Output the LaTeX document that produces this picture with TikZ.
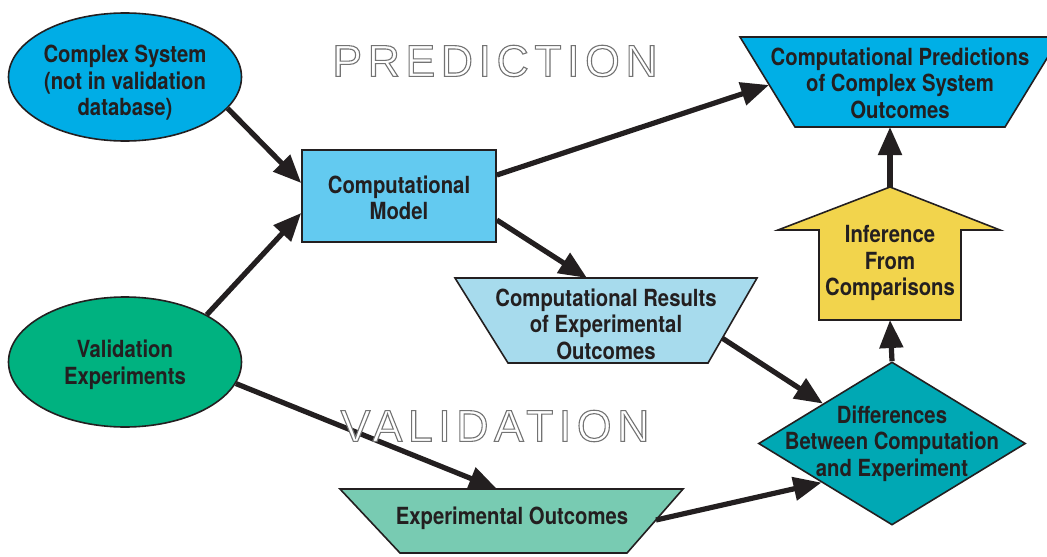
\documentclass[tikz,border=0pt]{standalone}
\usepackage{fontspec}
\setmainfont{TeX Gyre Heros}[FakeStretch=0.86]
\newfontfamily\hollowfont{Liberation Sans}[LetterSpace=12.5]
\usetikzlibrary{shapes.geometric,arrows.meta}

\definecolor{ink}{RGB}{35,31,32}
\definecolor{sysblue}{RGB}{0,173,230}
\definecolor{valgreen}{RGB}{0,178,128}
\definecolor{modelblue}{RGB}{99,202,240}
\definecolor{predblue}{RGB}{0,175,230}
\definecolor{resblue}{RGB}{167,219,237}
\definecolor{expgreen}{RGB}{120,203,178}
\definecolor{diffteal}{RGB}{0,168,180}
\definecolor{infyellow}{RGB}{242,212,76}

% outlined letters: white fill, grey stroke
\newcommand\hollow[1]{\special{pdf:literal direct 2 Tr 0.55 w 0.45 G 1 g}#1\special{pdf:literal direct 0 Tr 0 g 0 G}}

\tikzset{
  txt/.style={text=ink, font=\fontsize{11.8}{13.3}\selectfont\bfseries, align=center, inner sep=0pt},
  box/.style={draw=ink, line width=0.8pt, inner sep=2pt},
  arr/.style={draw=ink, line width=2.6pt, -{Triangle[length=14pt,width=11.5pt]}},
  title/.style={font=\hollowfont\fontsize{22.3}{24}\selectfont, inner sep=0pt}
}

\begin{document}
\begin{tikzpicture}[x=0.5pt,y=-0.5pt]
\useasboundingbox (0,0) rectangle (1047,556);

\node[box, ellipse, fill=sysblue, minimum width=116.5pt, minimum height=64pt] (cs) at (125,77) {};
\node[txt] at ([yshift=-3pt]cs.center) {Complex System\\(not in validation\\database)};
\node[box, ellipse, fill=valgreen, minimum width=116.5pt, minimum height=65pt] (val) at (125,362) {};
\node[txt] at ([yshift=-1.5pt]val.center) {Validation\\Experiments};
\node[box, rectangle, fill=modelblue, minimum width=97pt, minimum height=46pt] (model) at (399,196) {};
\node[txt] at ([yshift=-1pt]model.center) {Computational\\Model};

% trapezoids, wide side up
\draw[box, fill=predblue] (740,37) -- (1060,37) -- (1005,127) -- (795,127) -- cycle;
\node[txt] (pred) at (900,83) {Computational Predictions\\of Complex System\\Outcomes};
\coordinate (predleft) at (769,85);
\coordinate (predbase) at (890,127);
\draw[box, fill=resblue] (455,278) -- (757,278) -- (708,363) -- (508,363) -- cycle;
\node[txt] (res) at (606,324) {Computational Results\\of Experimental\\Outcomes};
\coordinate (restop) at (587,278);
\coordinate (resright) at (722,338);
\draw[box, fill=expgreen] (340,489) -- (683,489) -- (627,553) -- (400,553) -- cycle;
\node[txt] (exp) at (512,518) {Experimental Outcomes};
\coordinate (exptop) at (497,489);
\coordinate (expright) at (656,520);

\node[box, diamond, fill=diffteal, minimum width=133.5pt, minimum height=81.5pt] (diff) at (892,443.5) {};
\node[txt] at (diff) {Differences\\Between Computation\\and Experiment};

% big up arrow
\draw[box, fill=infyellow] (819,320) -- (819,230) -- (778,230) -- (890,187) -- (1000,230) -- (961,230) -- (961,320) -- cycle;
\coordinate (inftip) at (890,187);
\coordinate (infbase) at (890,320);
\node[txt] (inf) at (890,263) {Inference\\From\\Comparisons};

\draw[arr] (cs.-17) -- ([yshift=6.5pt]model.west);
\draw[arr] (val.30) -- ([yshift=-8.5pt]model.west);
\draw[arr] ([yshift=10.5pt]model.east) -- (predleft);
\draw[arr] ([yshift=-12pt]model.east) -- (restop);
\draw[arr] (val.-11) -- (exptop);
\draw[arr] (resright) -- (diff.150);
\draw[arr] (expright) -- (diff.-151);
\draw[arr] (diff.north) -- (infbase);
\draw[arr] (inftip) -- (predbase);

\node[title] (predtitle) at (495,61) {\hollow{PREDICTION}};
\node[title] (valtitle) at (495,426) {\hollow{VALIDATION}};
\end{tikzpicture}
\end{document}
